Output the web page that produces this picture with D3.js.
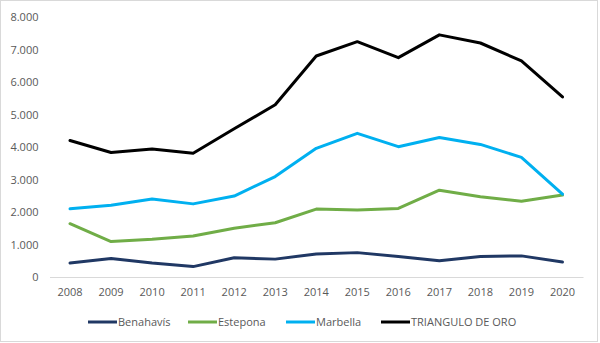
<!DOCTYPE html>
<html>
<head>
<meta charset="utf-8">
<script src="https://cdn.jsdelivr.net/npm/d3@7/dist/d3.min.js"></script>
<style>
  html, body { margin: 0; padding: 0; background: #fff; }
  svg { display: block; }
  text { font-family: "Open Sans", "Liberation Sans", sans-serif; }
</style>
</head>
<body>
<div id="chart"></div>
<script>
const years = ["2008","2009","2010","2011","2012","2013","2014","2015","2016","2017","2018","2019","2020"];
const benahavis = [430, 570, 430, 320, 590, 550, 710, 750, 630, 500, 630, 650, 460];
const estepona = [1640, 1090, 1160, 1260, 1500, 1670, 2090, 2060, 2110, 2670, 2470, 2330, 2520];
const marbella = [2100, 2210, 2400, 2250, 2490, 3090, 3960, 4420, 4010, 4290, 4080, 3680, 2550];
const triangulo = [4200, 3830, 3940, 3810, 4560, 5300, 6800, 7240, 6750, 7450, 7200, 6650, 5540];
const seriesNames = ["Benahavís", "Estepona", "Marbella", "TRIANGULO DE ORO"];
const seriesColors = ["#203864", "#70ad47", "#00b0f0", "#000000"];
const yTicks = [0, 1000, 2000, 3000, 4000, 5000, 6000, 7000, 8000];

const W = 600, H = 343;
const series = [benahavis, estepona, marbella, triangulo].map((vals, i) => ({
  name: seriesNames[i], color: seriesColors[i], values: vals
}));

const svg = d3.select("#chart").append("svg").attr("width", W).attr("height", H);

// outer border
svg.append("rect").attr("x", 0.5).attr("y", 0.5).attr("width", W - 3).attr("height", H - 2)
  .attr("fill", "#fff").attr("stroke", "#d9d9d9").attr("stroke-width", 1);

const x = d3.scaleBand().domain(years).range([49.5, 583]);
const y = d3.scaleLinear().domain([0, 8000]).range([277, 17]);

const fmt = v => d3.format(",")(v).replace(/,/g, ".");

// y axis labels
const yAxis = d3.axisLeft(y).tickValues(yTicks).tickFormat(fmt).tickSize(0).tickPadding(0);
const yg = svg.append("g").attr("transform", "translate(38.5,0)").call(yAxis);
yg.select(".domain").remove();
yg.selectAll("text").attr("fill", "#595959").style("font-size", "11px")
  .style("font-family", "'Open Sans', 'Liberation Sans', sans-serif");

// x axis
const xAxis = d3.axisBottom(x).tickSize(0).tickPadding(11);
const xg = svg.append("g").attr("transform", `translate(0,${y(0)})`).call(xAxis);
xg.select(".domain").attr("stroke", "#d9d9d9").attr("stroke-width", 1);
xg.selectAll("text").attr("fill", "#595959").style("font-size", "11px")
  .style("font-family", "'Open Sans', 'Liberation Sans', sans-serif");

const line = d3.line()
  .x((d, i) => x(years[i]) + x.bandwidth() / 2)
  .y(d => y(d));

svg.append("g").selectAll("path").data(series).join("path")
  .attr("d", d => line(d.values))
  .attr("fill", "none")
  .attr("stroke", d => d.color)
  .attr("stroke-width", 3)
  .attr("stroke-linejoin", "round")
  .attr("stroke-linecap", "round");

// legend
const legendX = [88, 188, 286, 381];
const lg = svg.append("g").selectAll("g").data(series).join("g")
  .attr("transform", (d, i) => `translate(${legendX[i]},322)`);
lg.append("line").attr("x1", 0).attr("x2", 29).attr("y1", 0).attr("y2", 0)
  .attr("stroke", d => d.color).attr("stroke-width", 3);
lg.append("text").attr("x", 30).attr("y", 0).attr("dy", "0.35em")
  .attr("fill", "#595959").style("font-size", "11px")
  .text(d => d.name);
</script>
</body>
</html>
